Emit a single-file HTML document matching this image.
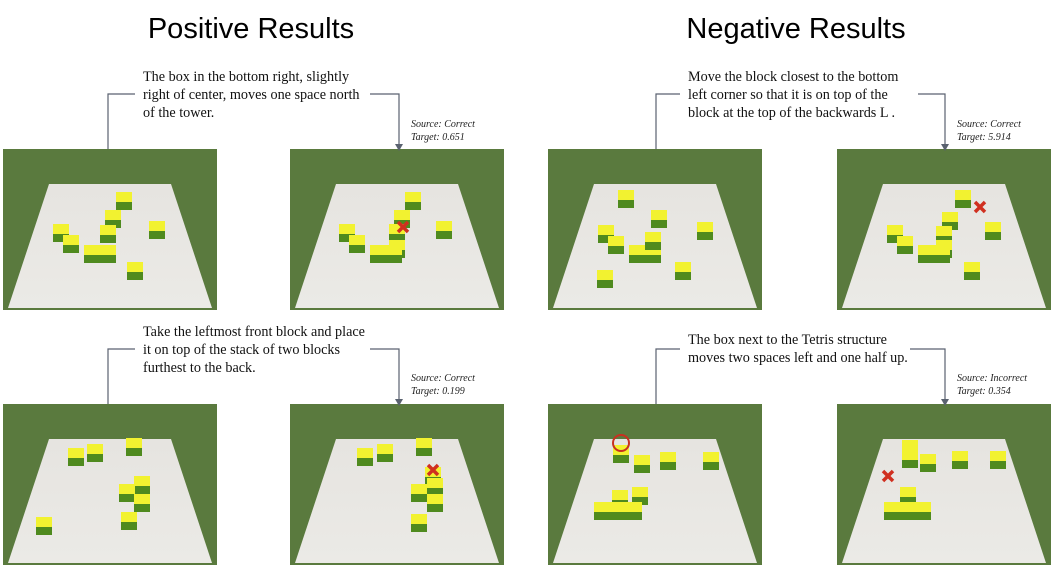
<!DOCTYPE html>
<html><head><meta charset="utf-8"><style>
body{margin:0;width:1064px;height:566px;background:#fff;overflow:hidden}
svg{display:block}
.cap{font-family:"Liberation Serif",serif;font-size:14.2px;fill:#111}
.src{font-family:"Liberation Serif",serif;font-size:10px;font-style:italic;fill:#222}
.title{font-family:"Liberation Sans",sans-serif;font-size:29px;fill:#000}
</style></head><body>
<svg id="fig" width="1064" height="566">
<defs>
<linearGradient id="floor" x1="0" y1="0" x2="0" y2="1"><stop offset="0" stop-color="#e6e4e0"/><stop offset="1" stop-color="#ebeae6"/></linearGradient>
</defs>
<text class="title" x="251" y="38" text-anchor="middle">Positive Results</text>
<text class="title" x="796" y="38" text-anchor="middle">Negative Results</text>
<g id="panels"></g>
<g fill="none" stroke="#5a6270" stroke-width="1.2">
<path d="M108 149V94H135"/><path d="M370 94H399V145"/>
<path d="M108 404V349H135"/><path d="M370 349H399V400"/>
<path d="M656 149V94H680"/><path d="M918 94H945V145"/>
<path d="M656 404V349H680"/><path d="M910 349H945V400"/>
</g>
<g fill="#5a6270">
<path d="M395 144L403 144L399 151Z"/><path d="M395 399L403 399L399 406Z"/>
<path d="M941 144L949 144L945 151Z"/><path d="M941 399L949 399L945 406Z"/>
</g>
<g class="cap">
<text x="143" y="81">The box in the bottom right, slightly</text>
<text x="143" y="99">right of center, moves one space north</text>
<text x="143" y="117">of the tower.</text></g>
<g class="cap">
<text x="143" y="336">Take the leftmost front block and place</text>
<text x="143" y="354">it on top of the stack of two blocks</text>
<text x="143" y="372">furthest to the back.</text></g>
<g class="cap">
<text x="688" y="81">Move the block closest to the bottom</text>
<text x="688" y="99">left corner so that it is on top of the</text>
<text x="688" y="117">block at the top of the backwards L .</text></g>
<g class="cap">
<text x="688" y="344">The box next to the Tetris structure</text>
<text x="688" y="362">moves two spaces left and one half up.</text></g>
<g class="src"><text x="411" y="127">Source: Correct</text><text x="411" y="140">Target:  0.651</text></g>
<g class="src"><text x="411" y="381">Source: Correct</text><text x="411" y="394">Target:  0.199</text></g>
<g class="src"><text x="957" y="127">Source: Correct</text><text x="957" y="140">Target:  5.914</text></g>
<g class="src"><text x="957" y="381">Source: Incorrect</text><text x="957" y="394">Target:  0.354</text></g>
</svg>
<script>
const panelOrigins=[[3,149],[290,149],[548,149],[837,149],[3,404],[290,404],[548,404],[837,404]];
const blockSets=[
[[113,43],[102,61],[97,76],[50,75],[60,86],[81,96],[97,96],[124,113],[146,72]],
[[115,43],[104,61],[99,75],[99,91],[49,75],[59,86],[80,96],[96,96],[146,72]],
[[70,41],[103,61],[50,76],[60,87],[81,96],[97,96],[97,83],[127,113],[149,73],[49,121]],
[[118,41],[105,63],[99,77],[99,91],[50,76],[60,87],[81,96],[97,96],[148,73],[127,113]],
[[65,44],[84,40],[123,34],[131,72],[116,80],[131,90],[33,113],[118,108]],
[[67,44],[87,40],[126,34],[135,63],[137,74],[121,80],[137,90],[121,110]],
[[65,41],[86,51],[112,48],[155,48],[84,83],[64,86],[46,98],[62,98],[78,98]],
[[65,36],[65,46],[83,50],[115,47],[153,47],[63,83],[47,98],[62,98],[78,98]]
];
const marks=[null,["x",113,78],null,["x",143,58],null,["x",143,66],["o",73,39],["x",51,72]];
const NS="http://www.w3.org/2000/svg";
const root=document.getElementById('panels');
function mk(t,a){const e=document.createElementNS(NS,t);for(const k in a)e.setAttribute(k,a[k]);return e;}
panelOrigins.forEach((o,i)=>{
  const g=mk('g',{transform:`translate(${o[0]},${o[1]})`});
  
  
  g.appendChild(mk('rect',{x:0,y:0,width:214,height:161,fill:'#5a7a3e'}));
  const fl=mk('polygon',{points:'46,35 168,35 209,159 5,159',fill:'url(#floor)'});
  
  
  g.appendChild(fl);
  blockSets[i].forEach(b=>{
    const bg=mk('g',{});
    
    
    bg.appendChild(mk('rect',{x:b[0],y:b[1]+9,width:16,height:9,fill:'#4f8a1e'}));
    bg.appendChild(mk('rect',{x:b[0],y:b[1],width:16,height:10,fill:'#f2f230'}));
    g.appendChild(bg);
  });
  const m=marks[i];
  if(m){
    let e;
    if(m[0]==='x'){
      e=mk('path',{d:`M${m[1]-5} ${m[2]-5}L${m[1]+5} ${m[2]+5}M${m[1]+5} ${m[2]-5}L${m[1]-5} ${m[2]+5}`,stroke:'#d03020','stroke-width':3.5});
    } else {
      e=mk('circle',{cx:m[1],cy:m[2],r:8,fill:'none',stroke:'#c83020','stroke-width':2});
    }
    
    
    g.appendChild(e);
  }
  root.appendChild(g);
});
</script>
</body></html>
